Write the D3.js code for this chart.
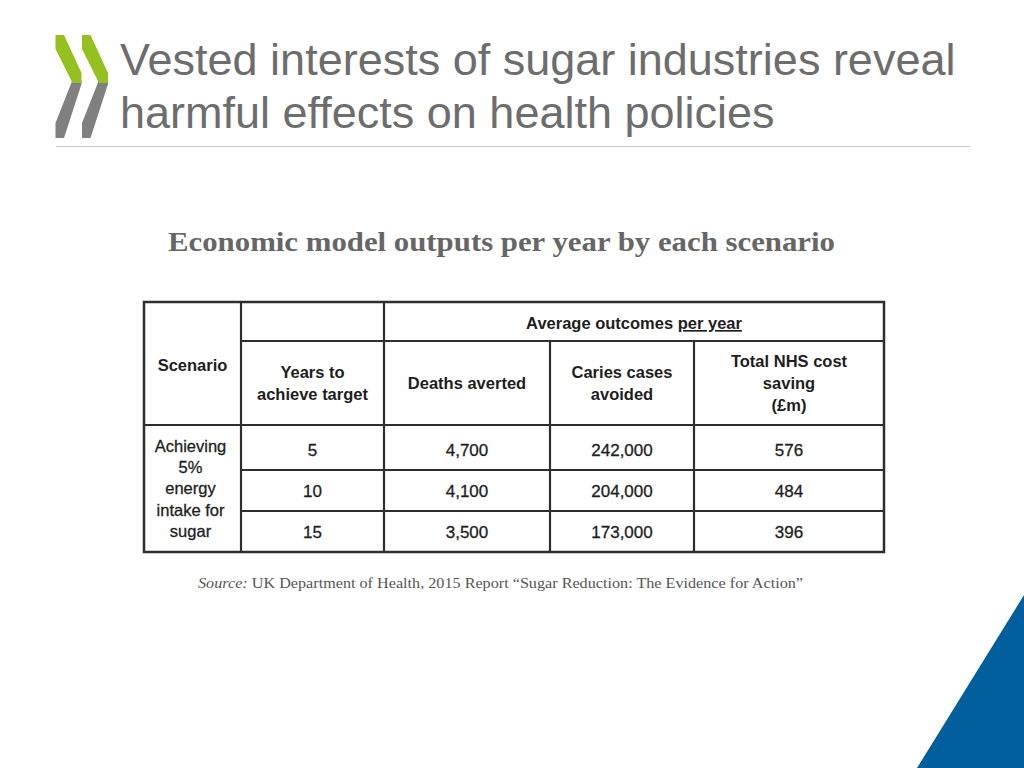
<!DOCTYPE html>
<html><head><meta charset="utf-8">
<script src="https://cdn.jsdelivr.net/npm/d3@7"></script>
<style>html,body{margin:0;padding:0;background:#fff;}svg{display:block;}</style>
</head><body>
<script>
// ---- data ----
const titleLines = ["Vested interests of sugar industries reveal", "harmful effects on health policies"];
const subtitle = "Economic model outputs per year by each scenario";
const headerTop = "Average outcomes ";
const headerTopUnderlined = "per year";
const columnHeaders = [["Scenario"], ["Years to", "achieve target"], ["Deaths averted"], ["Caries cases", "avoided"], ["Total NHS cost", "saving", "(£m)"]];
const scenarioLabel = ["Achieving", "5%", "energy", "intake for", "sugar"];
const yearsToTarget = [5, 10, 15];
const deathsAverted = [4700, 4100, 3500];
const cariesAvoided = [242000, 204000, 173000];
const nhsCostSaving = [576, 484, 396];
const sourceLabel = "Source:";
const sourceText = " UK Department of Health, 2015 Report “Sugar Reduction: The Evidence for Action”";

// ---- layout ----
const W = 1024, H = 768;
const svg = d3.select("body").append("svg").attr("width", W).attr("height", H);

// logo chevrons
const green = "#94c11f", grey = "#808080";
const pts = (arr, dx) => arr.map(p => [p[0] + dx, p[1]].join(",")).join(" ");
[0, 26.5].forEach(dx => {
  svg.append("polygon").attr("fill", grey)
    .attr("points", pts([[72.5,80],[81.5,80],[81.5,84],[64,138],[55.5,138],[55.5,123]], dx));
  svg.append("polygon").attr("fill", green)
    .attr("points", pts([[55.5,35],[64,35],[81.5,73],[81.5,83],[72.5,83],[55.5,49]], dx));
});

// title
svg.selectAll("text.title").data(titleLines).join("text")
  .attr("class", "title")
  .attr("x", 120).attr("y", (d, i) => 75 + i * 53)
  .attr("font-family", "Liberation Sans, Arial, sans-serif")
  .attr("font-size", 45).attr("fill", "#6d6d6d")
  .text(d => d);

svg.append("line").attr("x1", 56).attr("x2", 970).attr("y1", 146.5).attr("y2", 146.5)
  .attr("stroke", "#c8c8c8").attr("stroke-width", 1);

// subtitle
svg.append("text").attr("x", 168).attr("y", 251)
  .attr("font-family", "Liberation Serif, Georgia, serif").attr("font-weight", "bold")
  .attr("font-size", 27).attr("fill", "#666")
  .attr("textLength", 667).attr("lengthAdjust", "spacingAndGlyphs")
  .text(subtitle);

// table
const tableX = 144, tableY = 302, tableRight = 884, tableBottom = 552;
const colWidths = [97, 143, 166, 144, 190];
const colEdges = [tableX, ...d3.cumsum(colWidths).map(v => tableX + v)];
const headRow1 = 341, headBottom = 425;
const rowScale = d3.scaleBand().domain(yearsToTarget).range([429, tableBottom]).paddingInner(0);
const colCenter = i => (colEdges[i] + colEdges[i + 1]) / 2;

const t = svg.append("g");
const font = "Liberation Sans, Arial, sans-serif";
const ink = "#1e1e1e", lineCol = "#2e2e2e";

t.append("rect").attr("x", tableX).attr("y", tableY).attr("width", tableRight - tableX).attr("height", tableBottom - tableY)
  .attr("fill", "#fff").attr("stroke", lineCol).attr("stroke-width", 2.5);

const lines = [];
lines.push([colEdges[1], tableY, colEdges[1], tableBottom]);
lines.push([colEdges[2], tableY, colEdges[2], tableBottom]);
lines.push([colEdges[3], headRow1, colEdges[3], tableBottom]);
lines.push([colEdges[4], headRow1, colEdges[4], tableBottom]);
lines.push([colEdges[1], headRow1, tableRight, headRow1]);
lines.push([tableX, headBottom, tableRight, headBottom]);
yearsToTarget.slice(1).forEach(y => lines.push([colEdges[1], rowScale(y), tableRight, rowScale(y)]));
t.selectAll("line.grid").data(lines).join("line").attr("class", "grid")
  .attr("x1", d => d[0]).attr("y1", d => d[1]).attr("x2", d => d[2]).attr("y2", d => d[3])
  .attr("stroke", lineCol).attr("stroke-width", 2.2);

// top header
const topHeader = t.append("text").attr("x", (colEdges[2] + tableRight) / 2).attr("y", 329)
  .attr("text-anchor", "middle").attr("font-family", font).attr("font-weight", "bold")
  .attr("font-size", 16.5).attr("fill", ink);
topHeader.append("tspan").text(headerTop);
topHeader.append("tspan").attr("text-decoration", "underline").text(headerTopUnderlined);

// column headers
columnHeaders.forEach((lns, i) => {
  const cy = i === 0 ? 365 : 383;
  const lh = 22;
  const y0 = cy - (lns.length - 1) * lh / 2 + 6;
  t.append("text").attr("text-anchor", "middle").attr("font-family", font).attr("font-weight", "bold")
    .attr("font-size", 16.5).attr("fill", ink)
    .selectAll("tspan").data(lns).join("tspan")
    .attr("x", colCenter(i)).attr("y", (d, j) => y0 + j * lh).text(d => d);
});

// scenario label
t.append("text").attr("text-anchor", "middle").attr("font-family", font)
  .attr("font-size", 16.5).attr("fill", ink).attr("stroke", ink).attr("stroke-width", 0.3)
  .selectAll("tspan").data(scenarioLabel).join("tspan")
  .attr("x", colCenter(0) - 2).attr("y", (d, j) => 452 + j * 21.2).text(d => d);

// data cells
const fmt = d3.format(",");
const cols = [yearsToTarget, deathsAverted, cariesAvoided, nhsCostSaving];
cols.forEach((arr, ci) => {
  t.selectAll(null).data(arr).join("text")
    .attr("x", colCenter(ci + 1)).attr("y", (d, ri) => rowScale(yearsToTarget[ri]) + rowScale.bandwidth() / 2 + 6)
    .attr("text-anchor", "middle").attr("font-family", font).attr("font-size", 17)
    .attr("fill", ink).attr("stroke", ink).attr("stroke-width", 0.3)
    .text(d => fmt(d));
});

// source
const src = svg.append("text").attr("x", 198).attr("y", 588)
  .attr("font-family", "Liberation Serif, Georgia, serif").attr("font-size", 14.5).attr("fill", "#555")
  .attr("textLength", 605).attr("lengthAdjust", "spacingAndGlyphs");
src.append("tspan").attr("font-style", "italic").text(sourceLabel);
src.append("tspan").text(sourceText);

// blue corner triangle
svg.append("polygon").attr("fill", "#005f9c").attr("points", "1024,595 1024,768 917,768");
</script>
</body></html>
